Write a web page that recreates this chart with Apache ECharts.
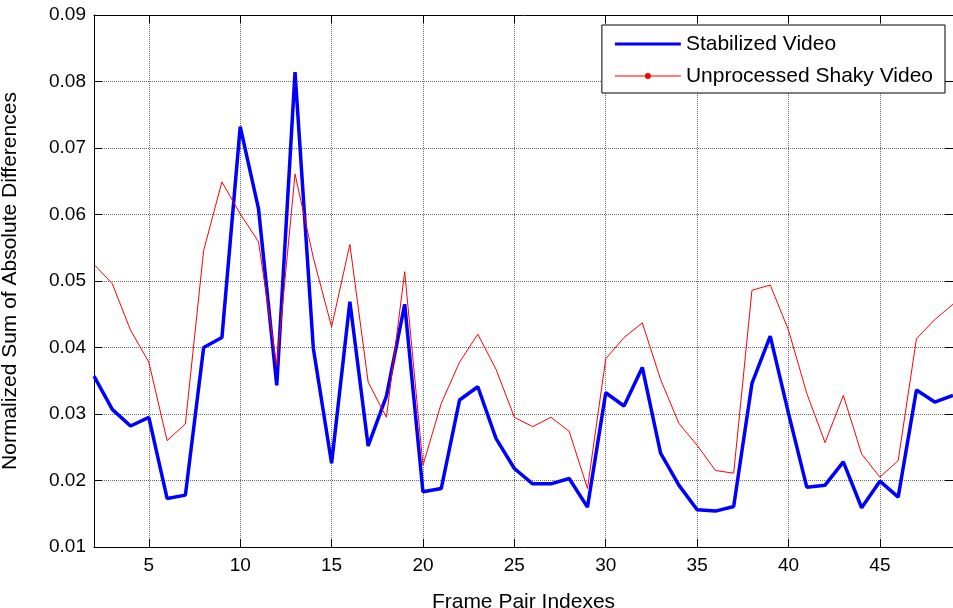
<!DOCTYPE html>
<html>
<head>
<meta charset="utf-8">
<script src="https://cdn.jsdelivr.net/npm/echarts@6/dist/echarts.min.js"></script>
<style>
html,body{margin:0;padding:0;background:#fff;}
#chart{width:953px;height:608px;}
</style>
</head>
<body>
<div id="chart"></div>
<script>
// frame pair index (x)
var frameIdx = [2,3,4,5,6,7,8,9,10,11,12,13,14,15,16,17,18,19,20,21,22,23,24,25,
	26,27,28,29,30,31,32,33,34,35,36,37,38,39,40,41,42,43,44,45,46,47,48,49];
var stabilized = [0.0357,0.0307,0.0282,0.0295,0.0173,0.0178,0.0400,0.0415,0.0732,0.0609,
	0.0343,0.0814,0.0399,0.0226,0.0469,0.0252,0.0327,0.0465,0.0183,0.0188,0.0321,0.0341,
	0.0263,0.0218,0.0195,0.0195,0.0203,0.0160,0.0332,0.0312,0.0370,0.0241,0.0193,0.0156,
	0.0154,0.0161,0.0346,0.0417,0.0301,0.0190,0.0193,0.0228,0.0159,0.0199,0.0175,0.0336,
	0.0318,0.0328];
var shaky = [0.0525,0.0496,0.0426,0.0378,0.0260,0.0285,0.0546,0.0649,0.0601,0.0559,
	0.0372,0.0661,0.0535,0.0431,0.0555,0.0348,0.0295,0.0514,0.0223,0.0316,0.0378,0.0420,
	0.0367,0.0295,0.0281,0.0295,0.0274,0.0188,0.0383,0.0415,0.0437,0.0352,0.0286,0.0253,
	0.0215,0.0211,0.0486,0.0494,0.0426,0.0331,0.0257,0.0328,0.0240,0.0205,0.0230,0.0413,
	0.0442,0.0465];
var xTicks = [5,10,15,20,25,30,35,40,45];
var seriesNames = ['Stabilized Video','Unprocessed Shaky Video'];

function pairs(ys){
	var out = [];
	for (var i = 0; i < ys.length; i++) out.push([frameIdx[i], ys[i]]);
	return out;
}

var font = 'Liberation Sans, Arial, sans-serif';
var axisLine = {show:true, onZero:false, lineStyle:{color:'#000', width:1}};
var gridLine = {show:true, lineStyle:{color:'#6a6a6a', type:'dotted', width:1}};

var myChart = echarts.init(document.getElementById('chart'), null, {renderer:'canvas'});
myChart.setOption({
	animation:false,
	backgroundColor:'#fff',
	grid:{left:94, right:0, top:15, bottom:61, containLabel:false, outerBoundsMode:'none'},
	legend:{
		orient:'vertical', right:8, top:25,
		padding:[7,12,5,13], itemGap:8,
		itemWidth:66, itemHeight:24,
		backgroundColor:'#fff', borderColor:'#000', borderWidth:1,
		textStyle:{fontFamily:font, fontSize:21, color:'#000', lineHeight:24},
		data:[
			{name:seriesNames[0], icon:'path://M0,10.5H66V13.5H0Z', itemStyle:{color:'#0000ff'}},
			{name:seriesNames[1], icon:'path://M0,11.5H66V12.5H0Z M33,9A3,3 0 0 1 33,15A3,3 0 0 1 33,9Z', itemStyle:{color:'#ff0000'}}
		]
	},
	xAxis:[{
		type:'value', min:2, max:49,
		name:'Frame Pair Indexes', nameLocation:'middle', nameGap:45,
		nameTextStyle:{fontFamily:font, fontSize:21, color:'#000'},
		axisLine:axisLine,
		axisTick:{show:true, inside:true, length:8, customValues:xTicks, lineStyle:{color:'#000'}},
		axisLabel:{customValues:xTicks, margin:9, fontFamily:font, fontSize:19, color:'#000'},
		splitLine:gridLine
	},{
		type:'value', min:2, max:49, position:'top',
		axisLine:axisLine,
		axisTick:{show:true, inside:true, length:8, customValues:xTicks, lineStyle:{color:'#000'}},
		axisLabel:{show:false},
		splitLine:{show:false}
	}],
	yAxis:[{
		type:'value', min:0.01, max:0.09, interval:0.01,
		name:'Normalized Sum of Absolute Differences', nameLocation:'middle', nameGap:73,
		nameTextStyle:{fontFamily:font, fontSize:21, color:'#000'},
		axisLine:axisLine,
		axisTick:{show:true, inside:true, length:8, lineStyle:{color:'#000'}},
		axisLabel:{margin:8, fontFamily:font, fontSize:19, color:'#000',
			formatter:function(v){ return v.toFixed(2); }},
		splitLine:gridLine
	},{
		type:'value', min:0.01, max:0.09, interval:0.01, position:'right',
		axisLine:axisLine,
		axisTick:{show:true, inside:true, length:8, lineStyle:{color:'#000'}},
		axisLabel:{show:false},
		splitLine:{show:false}
	}],
	series:[{
		name:seriesNames[0], type:'line', data:pairs(stabilized),
		symbol:'none', color:'#0000ff',
		lineStyle:{color:'#0000ff', width:3.5}, z:3
	},{
		name:seriesNames[1], type:'line', data:pairs(shaky),
		symbol:'none', color:'#ff0000',
		lineStyle:{color:'#ff0000', width:1}, z:4
	}]
});
</script>
</body>
</html>
